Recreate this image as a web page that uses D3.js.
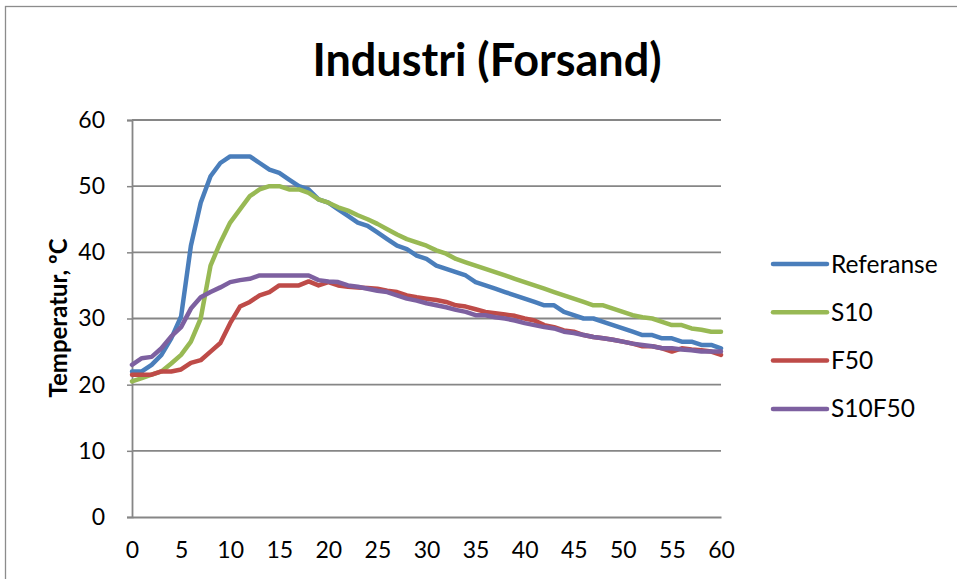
<!DOCTYPE html>
<html><head><meta charset="utf-8">
<script src="https://cdn.jsdelivr.net/npm/d3@7"></script>
<style>html,body{margin:0;padding:0;background:#fff;}svg{display:block;}</style>
</head><body>
<svg id="chart" width="957" height="579"></svg>
<script>
const title = "Industri (Forsand)";
const yAxisTitle = "Temperatur, ºC";
const minutes = d3.range(0, 61);
const xTicks = [0,5,10,15,20,25,30,35,40,45,50,55,60];
const yTicks = [0,10,20,30,40,50,60];
const seriesNames = ["Referanse","S10","F50","S10F50"];
const seriesColors = ["#4A7EBB","#98B954","#BE4B48","#7D60A0"];
const referanse = [22,22,23,24.5,27,30.3,41,47.5,51.5,53.5,54.5,54.5,54.5,53.5,52.5,52,51,50,49.5,48,47.5,46.5,45.5,44.5,44,43,42,41,40.5,39.5,39,38,37.5,37,36.5,35.5,35,34.5,34,33.5,33,32.5,32,32,31,30.5,30,30,29.5,29,28.5,28,27.5,27.5,27,27,26.5,26.5,26,26,25.5];
const s10 = [20.5,21,21.5,22,23.2,24.5,26.5,30,38,41.5,44.5,46.5,48.5,49.5,50,50,49.5,49.5,49,48,47.5,46.8,46.3,45.6,45,44.3,43.5,42.7,42,41.5,41,40.3,39.8,39,38.5,38,37.5,37,36.5,36,35.5,35,34.5,34,33.5,33,32.5,32,32,31.5,31,30.5,30.2,30,29.5,29,29,28.5,28.3,28,28];
const f50 = [21.5,21.5,21.5,22,22,22.3,23.3,23.7,25,26.3,29.3,31.8,32.5,33.5,34,35,35,35,35.6,35,35.5,35,34.8,34.7,34.6,34.5,34.2,34,33.5,33.2,33,32.8,32.5,32,31.8,31.4,31,30.8,30.6,30.4,30,29.7,29,28.7,28.2,28,27.5,27.2,27,26.8,26.5,26.2,25.8,25.8,25.5,25,25.5,25.3,25.2,25,24.5];
const s10f50 = [23,24,24.2,25.5,27.3,28.7,31.5,33.2,34,34.7,35.5,35.8,36,36.5,36.5,36.5,36.5,36.5,36.5,35.8,35.6,35.5,35,34.8,34.5,34.2,34,33.5,33,32.7,32.3,32,31.7,31.3,31,30.5,30.5,30.2,30,29.7,29.3,29,28.7,28.5,28,27.8,27.5,27.2,27,26.8,26.5,26.2,26,25.8,25.5,25.5,25.3,25.2,25,25,25];
const seriesValues = [referanse, s10, f50, s10f50];

const svg = d3.select("#chart");
const font = "Lato, 'Open Sans', sans-serif";
const axisGray = "#868686";

svg.append("rect").attr("x",5.5).attr("y",6.5).attr("width",1200).attr("height",1200)
  .attr("fill","none").attr("stroke","#8c8c8c").attr("stroke-width",1.3);

const x = d3.scaleLinear().domain([0,60]).range([132,721]);
const y = d3.scaleLinear().domain([0,60]).range([517,120]);

// gridlines
svg.append("g").selectAll("line").data(yTicks.filter(d=>d>0)).join("line")
  .attr("x1",x(0)).attr("x2",x(60)).attr("y1",d=>y(d)).attr("y2",d=>y(d))
  .attr("stroke",axisGray).attr("stroke-width",1.8);

// y axis
const yAxis = svg.append("g").attr("transform",`translate(${x(0)},0)`)
  .call(d3.axisLeft(y).tickValues(yTicks).tickSize(5).tickPadding(22));
yAxis.select(".domain").attr("stroke",axisGray).attr("stroke-width",1.8);
yAxis.selectAll(".tick line").attr("stroke",axisGray).attr("stroke-width",1.5);
yAxis.selectAll("text").attr("font-family",font).attr("font-size",23).attr("fill","#000");

// x axis
const xAxis = svg.append("g").attr("transform",`translate(0,${y(0)})`)
  .call(d3.axisBottom(x).tickValues(xTicks).tickSize(0).tickPadding(25));
xAxis.select(".domain").attr("stroke",axisGray).attr("stroke-width",1.8);
xAxis.selectAll("text").attr("font-family",font).attr("font-size",23).attr("fill","#000");

// lines
const line = d3.line().x((d,i)=>x(minutes[i])).y(d=>y(d));
seriesValues.forEach((vals,k)=>{
  svg.append("path").datum(vals).attr("d",line).attr("fill","none")
    .attr("stroke",seriesColors[k]).attr("stroke-width",4.5)
    .attr("stroke-linejoin","round").attr("stroke-linecap","round");
});

// title
svg.append("text").attr("x",487).attr("y",76).attr("text-anchor","middle")
  .attr("font-family",font).attr("font-weight","bold").attr("font-size",45).text(title);

// y axis title
svg.append("text").attr("transform","translate(67,318) rotate(-90)").attr("text-anchor","middle")
  .attr("font-family",font).attr("font-weight","bold").attr("font-size",24).text(yAxisTitle);

// legend
const lg = svg.append("g");
seriesNames.forEach((n,k)=>{
  const yy = 264 + k*48.3;
  lg.append("line").attr("x1",773).attr("x2",827).attr("y1",yy).attr("y2",yy)
    .attr("stroke",seriesColors[k]).attr("stroke-width",4.5).attr("stroke-linecap","round");
  lg.append("text").attr("x",831).attr("y",yy).attr("dy","0.35em")
    .attr("font-family",font).attr("font-size",24.5).attr("fill","#000").text(n);
});
</script>
</body></html>
